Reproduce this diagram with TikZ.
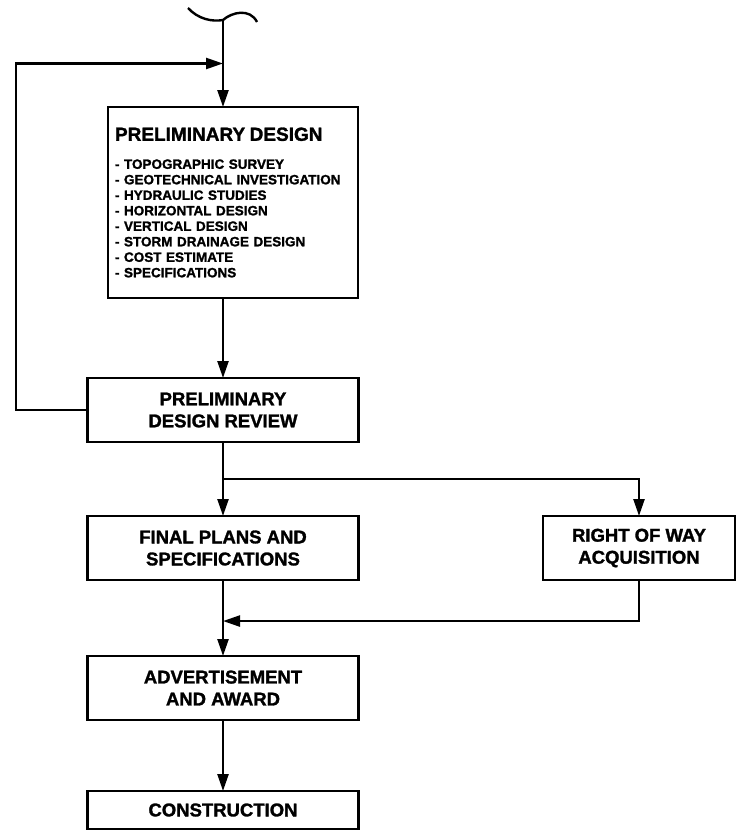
\documentclass[tikz,border=0pt]{standalone}
\usepackage{fontspec}
\setmainfont{Liberation Sans}
\newfontfamily\heavy[FakeBold=1.5]{Liberation Sans Bold}
\usetikzlibrary{arrows.meta,positioning,calc}

\begin{document}
\begin{tikzpicture}[x=1pt,y=-1pt,
  box/.style={draw,line width=2.8pt,inner sep=0pt,outer sep=0pt,minimum width=271pt,minimum height=64pt,align=center,font=\fontsize{18.5}{22}\selectfont\heavy},
  list/.style={box,minimum width=250pt,minimum height=191pt,text width=236pt,align=left,font=\fontsize{13.5}{15.5}\selectfont\heavy},
  arr/.style={-{Triangle[length=17pt,width=11pt]},line width=2.4pt}]
  \useasboundingbox (0,0) rectangle (736,830);
  \node[list] (pd) at (233,202.5) {{\fontsize{19}{22}\selectfont PRELIMINARY DESIGN}\\[12.5pt]
    - TOPOGRAPHIC SURVEY\\- GEOTECHNICAL INVESTIGATION\\- HYDRAULIC STUDIES\\- HORIZONTAL DESIGN\\
    - VERTICAL DESIGN\\- STORM DRAINAGE DESIGN\\- COST ESTIMATE\\- SPECIFICATIONS};
  \node[box,below=80pt of pd,xshift=-10pt] (review) {PRELIMINARY\\DESIGN REVIEW};
  \node[box,below=74pt of review] (final) {FINAL PLANS AND\\SPECIFICATIONS};
  \node[box,right=184.5pt of final,minimum width=192pt] (row) {RIGHT OF WAY\\ACQUISITION};
  \node[box,below=76pt of final] (adv) {ADVERTISEMENT\\AND AWARD};
  \node[box,below=71pt of adv,minimum height=38pt] (build) {CONSTRUCTION};
  \coordinate (top) at (223,20);
  \coordinate (join) at ($(top)!0.5!(pd.north -| top)$);
  \coordinate (split) at ($(review.south)!0.5!(final.north)$);
  \coordinate (merge) at ($(final.south)!0.54!(adv.north)$);
  \draw[line width=2.4pt] (188,8) .. controls (198,19) and (212,22) .. (top) .. controls (232,12) and (250,8) .. (257,22);
  \draw[arr] (top) -- (pd.north -| top);
  \draw[arr] (review.west) -- ++(-71.5,0) |- (join);
  \draw[arr] (pd.south -| review.north) -- (review.north);
  \draw[arr] (review.south) -- (final.north);
  \draw[arr] (split) -| (row.north);
  \draw[arr] (final.south) -- (adv.north);
  \draw[arr] (row.south) |- (merge);
  \draw[arr] (adv.south) -- (build.north);
\end{tikzpicture}
\end{document}
